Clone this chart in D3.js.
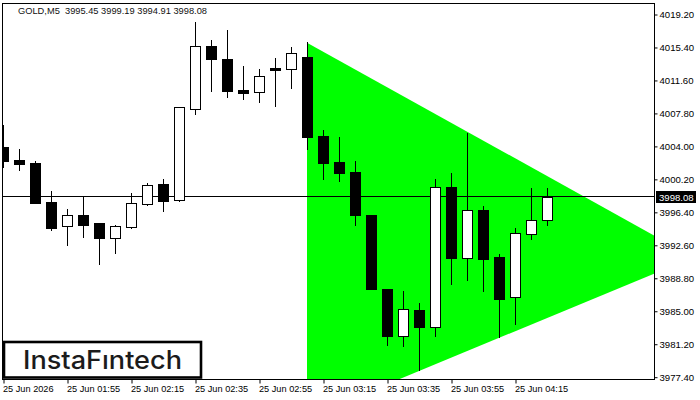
<!DOCTYPE html>
<html><head><meta charset="utf-8">
<script src="https://cdn.jsdelivr.net/npm/d3@7"></script>
<style>
html,body{margin:0;padding:0;background:#fff;}
svg{display:block;}
text{font-family:"Liberation Sans",Arial,sans-serif;}
</style></head>
<body>
<svg id="chart" width="700" height="400"></svg>
<script>
// ---- data ----
const times = ["01:35","01:40","01:45","01:50","01:55","02:00","02:05","02:10","02:15","02:20","02:25","02:30","02:35","02:40","02:45","02:50","02:55","03:00","03:05","03:10","03:15","03:20","03:25","03:30","03:35","03:40","03:45","03:50","03:55","04:00","04:05","04:10","04:15","04:20","04:25"];
const open  = [4003.91,4002.37,4002.03,3997.53,3994.80,3996.03,3995.11,3993.42,3994.69,3997.34,3999.61,3997.80,4008.22,4015.51,4014.01,4010.44,4010.18,4012.98,4012.90,4014.24,4005.14,4002.14,4000.99,3996.03,3987.51,3982.12,3985.09,3983.16,3999.23,3991.04,3996.61,3991.19,3986.55,3993.81,3995.45];
const high  = [4006.41,4003.64,4002.26,3998.80,3996.73,3998.22,3995.11,3994.88,3998.60,3999.72,4000.18,4008.45,4018.28,4016.20,4017.36,4013.21,4012.83,4014.13,4015.40,4015.94,4005.83,4005.02,4002.26,3996.03,3987.51,3987.28,3985.89,4000.15,4000.88,4005.52,3997.07,3991.54,3994.50,3999.15,3999.19];
const low   = [4001.60,4001.22,3997.45,3994.31,3992.58,3993.53,3990.39,3991.69,3994.57,3997.19,3996.50,3997.68,4007.71,4010.36,4009.67,4009.44,4009.09,4008.63,4010.71,4003.61,4000.22,3999.99,3994.92,3987.47,3981.09,3980.97,3978.17,3982.12,3988.12,3988.58,3987.31,3981.97,3983.51,3993.30,3994.91];
const close = [4002.29,4001.91,3997.45,3994.57,3996.00,3994.88,3993.42,3994.73,3997.42,3999.49,3997.68,4008.45,4015.51,4014.05,4010.36,4010.13,4012.05,4012.75,4014.71,4005.06,4002.06,4000.91,3996.07,3987.47,3982.12,3985.20,3983.16,3999.23,3991.11,3996.58,3991.00,3986.39,3993.93,3995.46,3998.08];

const priceTicks = [4019.20,4015.40,4011.60,4007.80,4004.00,4000.20,3996.40,3992.60,3988.80,3985.00,3981.20,3977.40];
const timeTickIdx = [0,4,8,12,16,20,24,28,32];
const timeTickLabels = ["25 Jun 2026","25 Jun 01:55","25 Jun 02:15","25 Jun 02:35","25 Jun 02:55","25 Jun 03:15","25 Jun 03:35","25 Jun 03:55","25 Jun 04:15"];

// triangle pattern: bar index & price of its three corners
const triIdx   = [19, 19, 43.16];
const triPrice = [4015.89, 3972.71, 3991.15];

const title = "GOLD,M5  3995.45 3999.19 3994.91 3998.08";
const lastPrice = 3998.08;
const logoText = "InstaF\u0131ntech";

// ---- layout ----
const plot = {left:2, right:654, top:3, bottom:379};
const svg = d3.select("#chart");

const x = d3.scaleLinear().domain([0, 34]).range([3, 547]);
const y = d3.scaleLinear().domain([3977.4, 4019.2]).range([376.7, 14]);
const px = v => Math.round(x(v));
const py = v => Math.round(y(v));

svg.append("defs").append("clipPath").attr("id","clip")
  .append("rect").attr("x",plot.left).attr("y",plot.top)
  .attr("width",plot.right-plot.left).attr("height",plot.bottom-plot.top);

const g = svg.append("g").attr("clip-path","url(#clip)");

// triangle
const triPts = triIdx.map((d,i)=>[x(d), y(triPrice[i])]);
g.append("path")
  .attr("d", d3.line()(triPts) + "Z")
  .attr("fill","#00ff00");

// price line
g.append("line")
  .attr("x1",plot.left).attr("x2",plot.right)
  .attr("y1",py(lastPrice)-0.5).attr("y2",py(lastPrice)-0.5)
  .attr("stroke","#000").attr("stroke-width",1);

// candles
const bars = d3.range(times.length).map(i=>({i,o:open[i],h:high[i],l:low[i],c:close[i]}));
const cg = g.selectAll("g.candle").data(bars).join("g").attr("class","candle");
cg.append("line")
  .attr("x1",d=>px(d.i)+0.5).attr("x2",d=>px(d.i)+0.5)
  .attr("y1",d=>py(d.h)).attr("y2",d=>py(d.l)+1)
  .attr("stroke","#000").attr("stroke-width",1);
cg.append("rect")
  .attr("x",d=>px(d.i)-5+0.5)
  .attr("y",d=>py(Math.max(d.o,d.c))+0.5)
  .attr("width",10)
  .attr("height",d=>Math.max(1, py(Math.min(d.o,d.c))-py(Math.max(d.o,d.c))))
  .attr("fill",d=>d.c>=d.o?"#fff":"#000")
  .attr("stroke","#000").attr("stroke-width",1);

// plot border
svg.append("rect")
  .attr("x",plot.left+0.5).attr("y",plot.top+0.5)
  .attr("width",plot.right-plot.left).attr("height",plot.bottom-plot.top)
  .attr("fill","none").attr("stroke","#000").attr("stroke-width",1);

// y axis (right)
const yAxis = d3.axisRight(y).tickValues(priceTicks).tickFormat(d3.format(".2f"))
  .tickSize(3).tickPadding(2);
const ya = svg.append("g").attr("transform",`translate(${plot.right+0.5},0.5)`).call(yAxis);
ya.select(".domain").remove();
ya.selectAll("text").attr("font-size","9.6px").attr("fill","#000")
  .style("font-family","'Liberation Sans',Arial,sans-serif").attr("dy","0.34em");
ya.selectAll("line").attr("stroke","#000");

// x axis (bottom)
const xAxis = d3.axisBottom(x).tickValues(timeTickIdx)
  .tickFormat((d,i)=>timeTickLabels[i]).tickSize(4).tickPadding(2);
const xa = svg.append("g").attr("transform",`translate(0.5,${plot.bottom+0.5})`).call(xAxis);
xa.select(".domain").remove();
xa.selectAll("text").attr("font-size","9.2px").attr("fill","#000")
  .attr("text-anchor","start").attr("x",-1)
  .style("font-family","'Liberation Sans',Arial,sans-serif");
xa.selectAll("line").attr("stroke","#000");

// last price label
const lpY = py(lastPrice);
svg.append("rect").attr("x",656).attr("y",lpY-6).attr("width",40).attr("height",12).attr("fill","#000");
svg.append("text").attr("x",659).attr("y",lpY+3.5).attr("fill","#fff")
  .attr("font-size","9.6px").text(d3.format(".2f")(lastPrice));

// title
svg.append("text").attr("x",18).attr("y",14).attr("font-size","9.6px").attr("fill","#111")
  .style("white-space","pre").attr("textLength",189).attr("lengthAdjust","spacingAndGlyphs")
  .text(title);

// logo
svg.append("rect").attr("x",4).attr("y",342).attr("width",197).attr("height",35.5)
  .attr("fill","#fff").attr("stroke","#000").attr("stroke-width",2.6);
svg.append("text").attr("x",23).attr("y",368.5).attr("font-size","25px")
  .style("font-family","Inter,'Open Sans',sans-serif").attr("font-weight",500)
  .attr("fill","#1b1b1b").attr("textLength",159).attr("lengthAdjust","spacingAndGlyphs")
  .text(logoText);
</script>
</body></html>
